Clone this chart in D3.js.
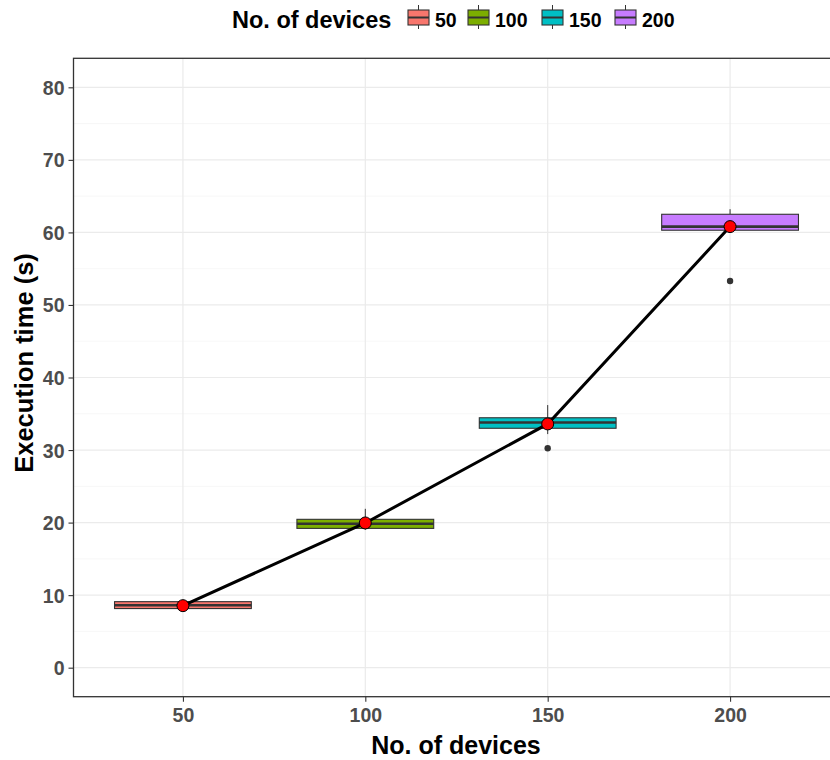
<!DOCTYPE html>
<html>
<head>
<meta charset="utf-8">
<script src="https://cdn.jsdelivr.net/npm/d3@7"></script>
<style>
  html, body { margin: 0; padding: 0; background: #fff; }
  svg { display: block; font-family: "Liberation Sans", Arial, Helvetica, sans-serif; }
</style>
</head>
<body>
<svg id="chart" width="830" height="760"></svg>
<script>
// Execution time of the run for each number of devices
const devices = ["50", "100", "150", "200"];
const whiskerLow = [8.0, 19.0, 32.2, 60.1];
const q1 = [8.15, 19.2, 33.0, 60.3];
const median = [8.6, 19.85, 33.8, 60.8];
const q3 = [9.1, 20.45, 34.45, 62.5];
const whiskerHigh = [9.3, 21.9, 36.2, 63.2];
const outliers = [[], [], [30.25], [53.3]];
const means = [8.55, 19.95, 33.6, 60.8];
const fills = ["#F8766D", "#7CAE00", "#00BFC4", "#C77CFF"];
const yTicks = [0, 10, 20, 30, 40, 50, 60, 70, 80];
const yMinor = [5, 15, 25, 35, 45, 55, 65, 75];

const svg = d3.select("#chart");
const panel = { left: 73.5, top: 58.3, right: 839.5, bottom: 696.7 };

const x = d3.scalePoint().domain(devices).range([panel.left, panel.right]).padding(0.6);
const y = d3.scaleLinear().domain([-4, 84]).range([panel.bottom, panel.top]);
const boxW = x.step() * 0.75;

const rows = devices.map((d, i) => ({
  d, lo: whiskerLow[i], q1: q1[i], med: median[i], q3: q3[i], hi: whiskerHigh[i],
  out: outliers[i], mean: means[i], fill: fills[i]
}));

// panel background and grid
const g = svg.append("g");
g.append("rect").attr("x", panel.left).attr("y", panel.top)
  .attr("width", panel.right - panel.left).attr("height", panel.bottom - panel.top)
  .attr("fill", "#fff");
g.selectAll(".ymin").data(yMinor).join("line")
  .attr("x1", panel.left).attr("x2", panel.right)
  .attr("y1", d => y(d)).attr("y2", d => y(d))
  .attr("stroke", "#f2f2f2").attr("stroke-width", 0.6);
g.selectAll(".ymaj").data(yTicks).join("line")
  .attr("x1", panel.left).attr("x2", panel.right)
  .attr("y1", d => y(d)).attr("y2", d => y(d))
  .attr("stroke", "#ebebeb").attr("stroke-width", 1.2);
g.selectAll(".xmaj").data(devices).join("line")
  .attr("x1", d => x(d)).attr("x2", d => x(d))
  .attr("y1", panel.top).attr("y2", panel.bottom)
  .attr("stroke", "#ebebeb").attr("stroke-width", 1.2);

// boxplots
const bp = svg.append("g");
bp.selectAll(".whisk").data(rows).join("g").each(function(r) {
  const s = d3.select(this);
  s.append("line").attr("x1", x(r.d)).attr("x2", x(r.d))
    .attr("y1", y(r.hi)).attr("y2", y(r.q3)).attr("stroke", "#333").attr("stroke-width", 1);
  s.append("line").attr("x1", x(r.d)).attr("x2", x(r.d))
    .attr("y1", y(r.q1)).attr("y2", y(r.lo)).attr("stroke", "#333").attr("stroke-width", 1);
  s.append("rect").attr("x", x(r.d) - boxW / 2).attr("width", boxW)
    .attr("y", y(r.q3)).attr("height", y(r.q1) - y(r.q3))
    .attr("fill", r.fill).attr("stroke", "#333").attr("stroke-width", 1.1);
  s.append("line").attr("x1", x(r.d) - boxW / 2).attr("x2", x(r.d) + boxW / 2)
    .attr("y1", y(r.med)).attr("y2", y(r.med)).attr("stroke", "#333").attr("stroke-width", 2.6);
  s.selectAll("circle").data(r.out).join("circle")
    .attr("cx", x(r.d)).attr("cy", v => y(v)).attr("r", 3.2).attr("fill", "#333");
});

// mean line and points
const line = d3.line().x(r => x(r.d)).y(r => y(r.mean));
svg.append("path").datum(rows).attr("d", line)
  .attr("fill", "none").attr("stroke", "#000").attr("stroke-width", 3);
svg.append("g").selectAll("circle").data(rows).join("circle")
  .attr("cx", r => x(r.d)).attr("cy", r => y(r.mean)).attr("r", 6)
  .attr("fill", "#ff0000").attr("stroke", "#000").attr("stroke-width", 1);

// panel border
svg.append("rect").attr("x", panel.left).attr("y", panel.top)
  .attr("width", panel.right - panel.left).attr("height", panel.bottom - panel.top)
  .attr("fill", "none").attr("stroke", "#333").attr("stroke-width", 1.3);

// axes
const yAxis = d3.axisLeft(y).tickValues(yTicks).tickSize(5).tickPadding(4);
const ya = svg.append("g").attr("transform", `translate(${panel.left},0)`).call(yAxis);
const xAxis = d3.axisBottom(x).tickSize(5).tickPadding(5);
const xa = svg.append("g").attr("transform", `translate(0,${panel.bottom})`).call(xAxis);
[ya, xa].forEach(a => {
  a.select(".domain").remove();
  a.selectAll(".tick line").attr("stroke", "#333").attr("stroke-width", 1.1);
  a.selectAll(".tick text").attr("fill", "#4d4d4d").attr("font-size", 19.5)
    .attr("font-weight", "bold").attr("font-family", "Liberation Sans, Arial, sans-serif");
});
ya.selectAll(".tick text").attr("dy", "0.36em");
xa.selectAll(".tick text").attr("dy", "0.78em");

// axis titles
svg.append("text").attr("x", 456).attr("y", 754)
  .attr("text-anchor", "middle").attr("font-size", 25).attr("font-weight", "bold")
  .attr("fill", "#000").text("No. of devices");
svg.append("text").attr("transform", `translate(33,363) rotate(-90)`)
  .attr("text-anchor", "middle").attr("font-size", 25.5).attr("font-weight", "bold")
  .attr("fill", "#000").text("Execution time (s)");

// legend
const lg = svg.append("g");
lg.append("text").attr("x", 232).attr("y", 28).attr("font-size", 23.5).attr("font-weight", "bold")
  .attr("fill", "#000").text("No. of devices");
const keyX = [408, 468, 542, 615];
rows.forEach((r, i) => {
  const kx = keyX[i], kw = 21, cx = kx + kw / 2;
  lg.append("line").attr("x1", cx).attr("x2", cx).attr("y1", 5).attr("y2", 29)
    .attr("stroke", "#333").attr("stroke-width", 1);
  lg.append("rect").attr("x", kx).attr("y", 10).attr("width", kw).attr("height", 15)
    .attr("fill", r.fill).attr("stroke", "#333").attr("stroke-width", 1.1);
  lg.append("line").attr("x1", kx).attr("x2", kx + kw).attr("y1", 17.5).attr("y2", 17.5)
    .attr("stroke", "#333").attr("stroke-width", 2);
  lg.append("text").attr("x", kx + kw + 6).attr("y", 27).attr("font-size", 19.5)
    .attr("font-weight", "bold").attr("fill", "#000").text(r.d);
});
</script>
</body>
</html>
